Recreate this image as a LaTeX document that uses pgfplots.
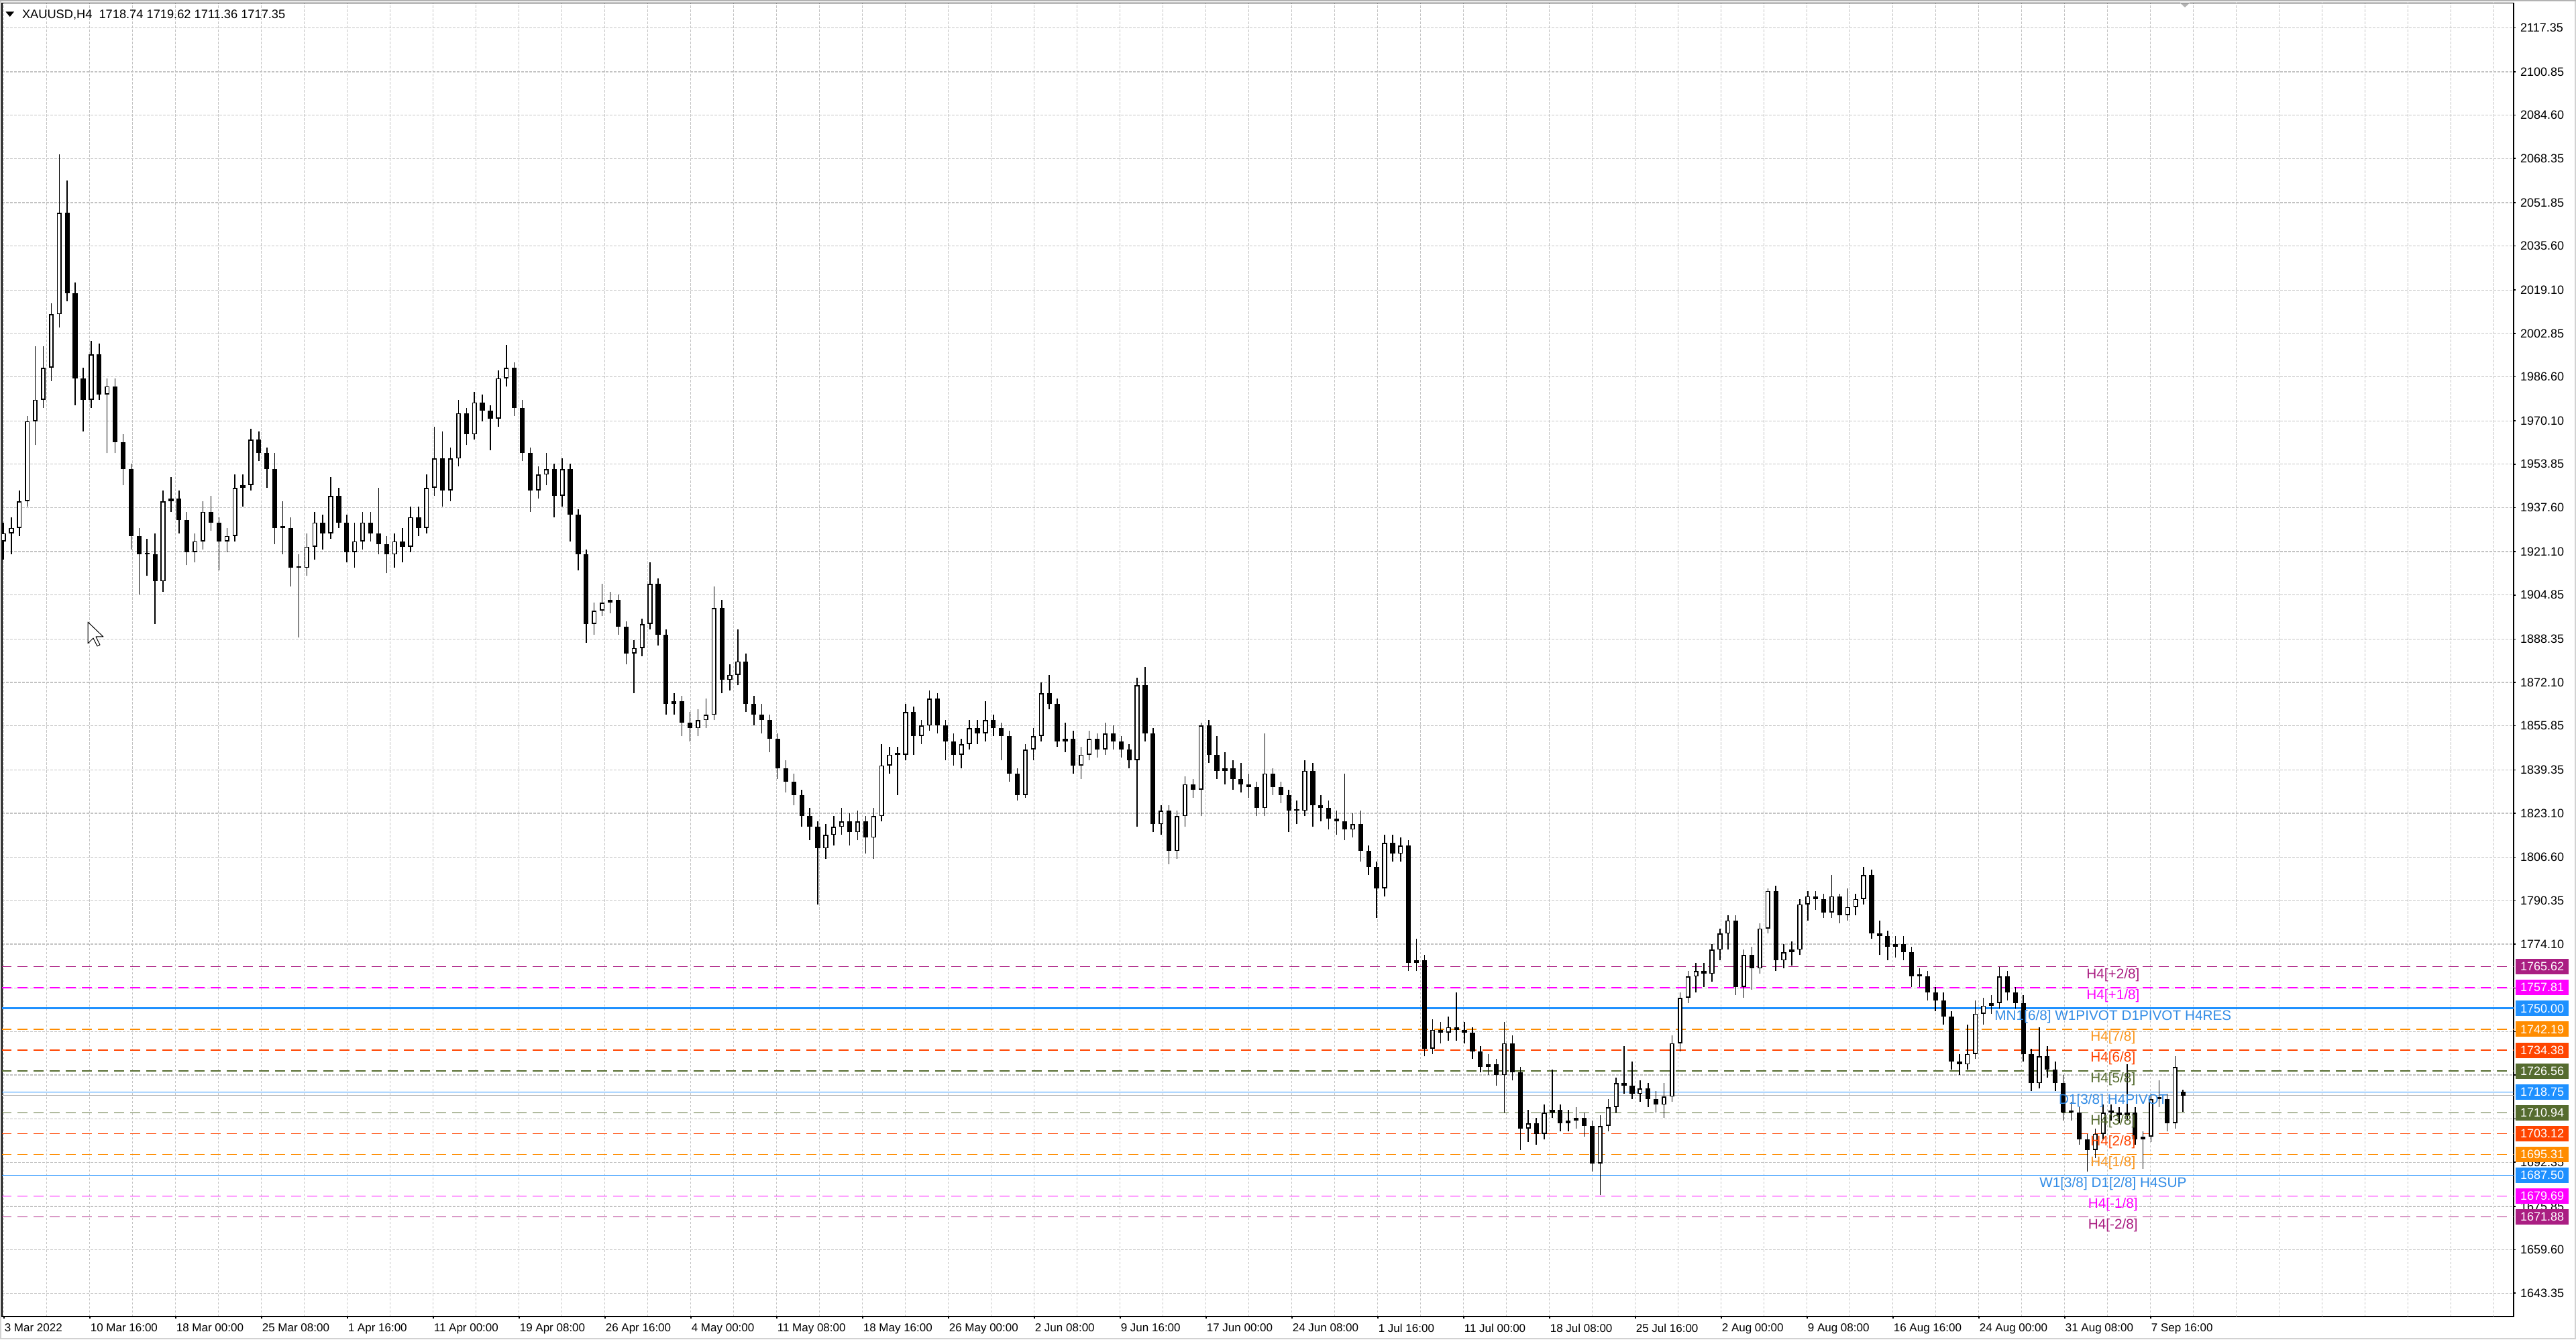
\documentclass[border=0pt]{standalone}
\usepackage{fontspec}
\setmainfont{Liberation Sans}
\usepackage{pgfplots}
\usepackage{pgfplotstable}
\pgfplotsset{compat=1.18}

\definecolor{mvr}{RGB}{170,30,130}
\definecolor{mag}{RGB}{255,0,255}
\definecolor{dblue}{RGB}{30,144,255}
\definecolor{tblue}{RGB}{50,140,230}
\definecolor{dorange}{RGB}{255,140,0}
\definecolor{torange}{RGB}{250,150,30}
\definecolor{ored}{RGB}{255,69,0}
\definecolor{olive}{RGB}{85,107,47}
\definecolor{gridgray}{RGB}{195,195,195}

\pgfplotsset{
  candle/.style={only marks, mark=*, mark size=0pt, mark options={draw=none, fill=none}, forget plot,
    error bars/.cd, y dir=plus, y explicit, error mark=none,
    error bar style={#1}},
}

% H4 candles, one row per 3 bars: x o h l c
\pgfplotstableread{
x o h l c
0 1925 1932 1918 1928
3 1928 1934 1920 1930
6 1930 1944 1927 1940
9 1940 1972 1938 1970
12 1970 1998 1961 1978
15 1978 1998 1975 1990
18 1990 2014 1985 2010
21 2010 2070 2005 2048
24 2048 2060 2015 2018
27 2018 2022 1976 1986
30 1986 1990 1966 1978
33 1978 2000 1975 1995
36 1995 1999 1978 1980
39 1980 1986 1958 1983
42 1983 1986 1958 1962
45 1962 1965 1946 1952
48 1952 1954 1922 1927
51 1927 1930 1905 1920
54 1920 1926 1912 1920
57 1920 1928 1894 1910
60 1910 1944 1906 1940
63 1940 1949 1936 1941
66 1941 1944 1928 1933
69 1933 1936 1916 1921
72 1921 1928 1917 1925
75 1925 1940 1922 1936
78 1936 1942 1929 1932
81 1932 1934 1914 1925
84 1925 1930 1921 1927
87 1927 1950 1925 1945
90 1945 1950 1938 1946
93 1946 1967 1944 1963
96 1963 1966 1955 1958
99 1958 1960 1945 1952
102 1952 1958 1924 1930
105 1930 1940 1920 1930
108 1930 1934 1908 1915
111 1915 1920 1889 1915
114 1915 1928 1912 1923
117 1923 1936 1918 1932
120 1932 1935 1922 1928
123 1928 1949 1926 1942
126 1942 1945 1930 1932
129 1932 1935 1917 1921
132 1921 1932 1915 1925
135 1925 1936 1922 1932
138 1932 1936 1925 1928
141 1928 1945 1920 1924
144 1924 1927 1913 1920
147 1920 1928 1915 1925
150 1925 1930 1917 1923
153 1923 1938 1921 1934
156 1934 1938 1927 1930
159 1930 1950 1928 1945
162 1945 1968 1942 1956
165 1956 1966 1938 1944
168 1944 1960 1940 1956
171 1956 1978 1953 1973
174 1973 1975 1961 1965
177 1965 1981 1963 1977
180 1977 1980 1970 1974
183 1974 1976 1959 1971
186 1971 1989 1968 1986
189 1986 1998.5 1983 1990
192 1990 1992 1972 1975
195 1975 1978 1955 1958
198 1958 1960 1936 1944
201 1944 1953 1941 1950
204 1950 1958 1946 1952
207 1952 1954 1934 1942
210 1942 1956 1938 1952
213 1952 1954 1925 1935
216 1935 1937 1914 1920
219 1920 1922 1887 1894
222 1894 1902 1890 1899
225 1899 1909 1897 1902
228 1902 1906 1898 1903
231 1903 1905 1890 1893
234 1893 1895 1879 1883
237 1883 1888 1868 1885
240 1885 1896 1882 1894
243 1894 1917 1892 1909
246 1909 1911 1886 1890
249 1890 1892 1860 1864
252 1864 1868 1860 1865
255 1865 1867 1852 1857
258 1857 1861 1850 1855
261 1855 1862 1852 1858
264 1858 1866 1855 1860
267 1860 1908 1858 1900
270 1900 1903 1868 1873
273 1873 1879 1869 1875
276 1875 1892 1871 1880
279 1880 1883 1861 1864
282 1864 1867 1856 1860
285 1860 1864 1853 1858
288 1858 1860 1846 1851
291 1851 1853 1836 1840
294 1840 1843 1831 1835
297 1835 1838 1826 1830
300 1830 1832 1818 1822
303 1822 1825 1813 1818
306 1818 1820 1789 1810
309 1810 1819 1806 1815
312 1815 1822 1811 1818
315 1818 1825 1815 1820
318 1820 1823 1811 1816
321 1816 1824 1813 1820
324 1820 1822 1808 1814
327 1814 1825 1806 1822
330 1822 1849 1820 1841
333 1841 1848 1838 1845
336 1845 1848 1830 1845
339 1845 1864 1843 1861
342 1861 1863 1845 1852
345 1852 1858 1849 1856
348 1856 1869 1854 1866
351 1866 1868 1853 1856
354 1856 1858 1843 1850
357 1850 1853 1841 1845
360 1845 1851 1840 1849
363 1849 1858 1847 1855
366 1855 1858 1849 1853
369 1853 1865 1850 1858
372 1858 1860 1852 1855
375 1855 1857 1843 1852
378 1852 1854 1835 1838
381 1838 1840 1828 1830
384 1830 1849 1829 1847
387 1847 1855 1843 1852
390 1852 1872 1850 1868
393 1868 1875 1862 1864
396 1864 1866 1848 1850
399 1850 1857 1846 1851
402 1851 1854 1838 1841
405 1841 1848 1836 1845
408 1845 1854 1843 1851
411 1851 1853 1844 1847
414 1847 1857 1845 1853
417 1853 1856 1847 1850
420 1850 1852 1844 1847
423 1847 1849 1840 1843
426 1843 1874 1818 1871
429 1871 1878 1850 1853
432 1853 1855 1816 1819
435 1819 1826 1815 1824
438 1824 1826 1804 1809
441 1809 1824 1806 1822
444 1822 1837 1818 1834
447 1834 1836 1829 1832
450 1832 1857 1822 1856
453 1856 1858 1842 1845
456 1845 1852 1836 1839
459 1839 1846 1834 1840
462 1840 1843 1832 1836
465 1836 1842 1831 1834
468 1834 1838 1829 1833
471 1833 1835 1822 1825
474 1825 1853 1822 1838
477 1838 1840 1830 1833
480 1833 1835 1827 1830
483 1830 1832 1816 1824
486 1824 1828 1819 1824
489 1824 1843 1822 1839
492 1839 1842 1818 1826
495 1826 1830 1820 1825
498 1825 1828 1817 1821
501 1821 1824 1815 1820
504 1820 1838 1813 1817
507 1817 1823 1814 1819
510 1819 1824 1805 1809
513 1809 1811 1800 1803
516 1803 1805 1784 1795
519 1795 1815 1792 1812
522 1812 1815 1805 1808
525 1808 1814 1805 1811
528 1811 1813 1764 1767
531 1767 1776 1764 1768
534 1768 1770 1732 1735
537 1735 1746 1733 1742
540 1742 1745 1737 1741
543 1741 1747 1738 1743
546 1743 1756 1738 1742
549 1742 1745 1737 1741
552 1741 1743 1731 1734
555 1734 1736 1726 1728
558 1728 1733 1725 1729
561 1729 1731 1721 1725
564 1725 1745 1711 1737
567 1737 1740 1723 1726
570 1726 1728 1697 1705
573 1705 1712 1700 1707
576 1707 1709 1699 1703
579 1703 1714 1701 1711
582 1711 1727 1709 1712
585 1712 1714 1704 1707
588 1707 1712 1704 1708
591 1708 1713 1705 1709
594 1709 1711 1702 1706
597 1706 1708 1689 1692
600 1692 1710 1680 1706
603 1706 1716 1704 1713
606 1713 1724 1711 1722
609 1722 1736 1718 1721
612 1721 1730 1716 1718
615 1718 1723 1715 1720
618 1720 1722 1713 1716
621 1716 1719 1711 1714
624 1714 1722 1709 1717
627 1717 1740 1715 1737
630 1737 1756 1734 1754
633 1754 1764 1752 1762
636 1762 1767 1756 1764
639 1764 1767 1758 1763
642 1763 1774 1760 1772
645 1772 1780 1768 1778
648 1778 1785 1772 1783
651 1783 1785 1755 1758
654 1758 1772 1754 1770
657 1770 1773 1757 1765
660 1765 1782 1763 1780
663 1780 1795 1778 1794
666 1794 1796 1764 1768
669 1768 1774 1765 1771
672 1771 1775 1766 1772
675 1772 1791 1770 1789
678 1789 1794 1783 1792
681 1792 1794 1787 1791
684 1791 1793 1784 1786
687 1786 1800 1784 1792
690 1792 1793 1782 1785
693 1785 1795 1783 1788
696 1788 1793 1785 1791
699 1791 1803 1789 1800
702 1800 1802 1776 1778
705 1778 1783 1770 1777
708 1777 1779 1768 1773
711 1773 1777 1769 1774
714 1774 1777 1768 1771
717 1771 1773 1758 1762
720 1762 1765 1758 1762
723 1762 1764 1753 1756
726 1756 1758 1749 1753
729 1753 1756 1744 1747
732 1747 1749 1727 1730
735 1730 1733 1725 1729
738 1729 1744 1727 1733
741 1733 1753 1731 1748
744 1748 1754 1744 1751
747 1751 1755 1748 1752
750 1752 1765.5 1750 1762
753 1762 1764 1753 1756
756 1756 1758 1750 1752
759 1752 1755 1730 1733
762 1733 1735 1719 1722
765 1722 1743 1720 1732
768 1732 1736 1724 1727
771 1727 1730 1719 1722
774 1722 1725 1708 1711
777 1711 1715 1708 1711
780 1711 1713 1699 1701
783 1701 1703 1689 1697
786 1697 1705 1694 1703
789 1703 1714 1701 1711
792 1711 1714 1708 1711
795 1711 1713 1707 1710
798 1710 1729 1708 1711
801 1711 1713 1699 1701
804 1701 1704 1690 1702
807 1702 1718 1700 1716
810 1716 1723 1713 1716
813 1716 1718 1704 1707
816 1707 1732 1705 1728
819 1718.74 1719.62 1711.36 1717.35
}\candles

\begin{document}
\begin{tikzpicture}
\fill[white] (-0.6pt,-6.8pt) rectangle (767.4pt,392.4pt);
\begin{axis}[
  at={(0,0)}, anchor=south west,
  scale only axis, width=748.8pt, height=391.5pt,
  xmin=-0.7, xmax=935.3, ymin=1634.6, ymax=2126.6,
  axis line style={black, line width=0.3pt},
  tick align=outside, major tick length=0.6pt, minor tick length=0pt,
  tick style={black, line width=0.3pt},
  xtick pos=bottom, ytick pos=right, yticklabel pos=right,
  xtick={0,32,...,800}, minor xtick={16,48,...,928},
  xticklabels={3 Mar 2022,10 Mar 16:00,18 Mar 00:00,25 Mar 08:00,1 Apr 16:00,11 Apr 00:00,19 Apr 08:00,26 Apr 16:00,4 May 00:00,11 May 08:00,18 May 16:00,26 May 00:00,2 Jun 08:00,9 Jun 16:00,17 Jun 00:00,24 Jun 08:00,1 Jul 16:00,11 Jul 00:00,18 Jul 08:00,25 Jul 16:00,2 Aug 00:00,9 Aug 08:00,16 Aug 16:00,24 Aug 00:00,31 Aug 08:00,7 Sep 16:00},
  extra x ticks={832,864,896,928}, extra x tick labels={},
  extra x tick style={major tick length=0pt},
  ytick={1643.35,1659.60,1675.85,1692.35,1708.60,1725.10,1741.35,1757.60,1774.10,1790.35,1806.60,1823.10,1839.35,1855.85,1872.10,1888.35,1904.85,1921.10,1937.60,1953.85,1970.10,1986.60,2002.85,2019.10,2035.60,2051.85,2068.35,2084.60,2100.85,2117.35},
  yticklabels={1643.35,1659.60,1675.85,1692.35,{},{},{},{},1774.10,1790.35,1806.60,1823.10,1839.35,1855.85,1872.10,1888.35,1904.85,1921.10,1937.60,1953.85,1970.10,1986.60,2002.85,2019.10,2035.60,2051.85,2068.35,2084.60,2100.85,2117.35},
  grid=both,
  major grid style={gridgray, line width=0.25pt, dash pattern=on 0.7pt off 0.5pt},
  minor grid style={gridgray, line width=0.25pt, dash pattern=on 0.7pt off 0.5pt},
  xticklabel style={font=\fontsize{3.4}{4}\selectfont, anchor=north west, inner sep=0pt, yshift=-1.4pt},
  yticklabel style={font=\fontsize{3.6}{4}\selectfont, anchor=west, inner sep=0pt, xshift=1.2pt},
]
% level lines
\addplot[mvr, line width=0.3pt, dash pattern=on 3pt off 1.8pt, forget plot] coordinates {(-1,1765.62) (940,1765.62)};
\addplot[mag, line width=0.3pt, dash pattern=on 3pt off 1.8pt, forget plot] coordinates {(-1,1757.81) (940,1757.81)};
\addplot[dblue, line width=0.55pt, forget plot] coordinates {(-1,1750.00) (940,1750.00)};
\addplot[dorange, line width=0.3pt, dash pattern=on 3pt off 1.8pt, forget plot] coordinates {(-1,1742.19) (940,1742.19)};
\addplot[ored, line width=0.3pt, dash pattern=on 3pt off 1.8pt, forget plot] coordinates {(-1,1734.38) (940,1734.38)};
\addplot[olive, line width=0.3pt, dash pattern=on 3pt off 1.8pt, forget plot] coordinates {(-1,1726.56) (940,1726.56)};
\addplot[dblue, line width=0.25pt, forget plot] coordinates {(-1,1718.75) (940,1718.75)};
\addplot[gray!55, line width=0.25pt, forget plot] coordinates {(-1,1717.35) (940,1717.35)};
\addplot[olive, line width=0.3pt, dash pattern=on 3pt off 1.8pt, forget plot] coordinates {(-1,1710.94) (940,1710.94)};
\addplot[ored, line width=0.3pt, dash pattern=on 3pt off 1.8pt, forget plot] coordinates {(-1,1703.12) (940,1703.12)};
\addplot[dorange, line width=0.3pt, dash pattern=on 3pt off 1.8pt, forget plot] coordinates {(-1,1695.31) (940,1695.31)};
\addplot[dblue, line width=0.25pt, forget plot] coordinates {(-1,1687.50) (940,1687.50)};
\addplot[mag, line width=0.3pt, dash pattern=on 3pt off 1.8pt, forget plot] coordinates {(-1,1679.69) (940,1679.69)};
\addplot[mvr, line width=0.3pt, dash pattern=on 3pt off 1.8pt, forget plot] coordinates {(-1,1671.88) (940,1671.88)};

% wicks
\addplot[candle={black, line width=0.3pt}]
  table[x expr=0.9918*\thisrow{x}-0.2, y=l, y error expr=\thisrow{h}-\thisrow{l}] {\candles};
% bodies
\addplot[candle={black, line width=1.45pt}]
  table[x expr=0.9918*\thisrow{x}-0.2, y expr={min(\thisrow{o},\thisrow{c})},
        y error expr={max(abs(\thisrow{c}-\thisrow{o}),0.7)}] {\candles};
% hollow bullish bodies
\addplot[candle={white, line width=0.75pt}]
  table[x expr=0.9918*\thisrow{x}-0.2,
        y expr={\thisrow{c}-\thisrow{o}>1.2 ? \thisrow{o}+0.4 : nan},
        y error expr={\thisrow{c}-\thisrow{o}-0.8}] {\candles};

% level names
\begin{scope}[every node/.style={font=\fontsize{4.15}{5}\selectfont, inner sep=0pt}]
\node[text=mvr] at (axis cs:786,1762.5) {H4[+2/8]};
\node[text=mag] at (axis cs:786,1754.7) {H4[+1/8]};
\node[text=tblue] at (axis cs:786,1746.9) {MN1[6/8] W1PIVOT D1PIVOT H4RES};
\node[text=torange] at (axis cs:786,1739.1) {H4[7/8]};
\node[text=ored] at (axis cs:786,1731.3) {H4[6/8]};
\node[text=olive] at (axis cs:786,1723.5) {H4[5/8]};
\node[text=tblue] at (axis cs:786,1715.6) {D1[3/8] H4PIVOT};
\node[text=olive] at (axis cs:786,1707.8) {H4[3/8]};
\node[text=ored] at (axis cs:786,1700.0) {H4[2/8]};
\node[text=torange] at (axis cs:786,1692.2) {H4[1/8]};
\node[text=tblue] at (axis cs:786,1684.4) {W1[3/8] D1[2/8] H4SUP};
\node[text=mag] at (axis cs:786,1676.6) {H4[-1/8]};
\node[text=mvr] at (axis cs:786,1668.8) {H4[-2/8]};
\end{scope}

% header
\node[anchor=west, inner sep=0pt, font=\fontsize{3.65}{4}\selectfont, xshift=5.8pt, yshift=-3.5pt]
  at (rel axis cs:0,1) {XAUUSD,H4\ \ 1718.74 1719.62 1711.36 1717.35};

% anchors for the price boxes
\coordinate (q1) at (axis cs:935.3,1765.62);
\coordinate (q2) at (axis cs:935.3,1757.81);
\coordinate (q3) at (axis cs:935.3,1750.00);
\coordinate (q4) at (axis cs:935.3,1742.19);
\coordinate (q5) at (axis cs:935.3,1734.38);
\coordinate (q6) at (axis cs:935.3,1726.56);
\coordinate (q7) at (axis cs:935.3,1718.75);
\coordinate (q8) at (axis cs:935.3,1710.94);
\coordinate (q9) at (axis cs:935.3,1703.12);
\coordinate (q10) at (axis cs:935.3,1695.31);
\coordinate (q11) at (axis cs:935.3,1687.50);
\coordinate (q12) at (axis cs:935.3,1679.69);
\coordinate (q13) at (axis cs:935.3,1671.88);
\coordinate (tl) at (rel axis cs:0,1);
\coordinate (sh) at (axis cs:812.8,2126.6);
\end{axis}

% small markers of the terminal window
\fill[black] (tl) ++(1.1pt,-2.6pt) -- ++(2.5pt,0pt) -- ++(-1.25pt,-1.5pt) -- cycle;
\fill[gray!60] (sh) ++(-1.4pt,0pt) -- ++(2.8pt,0pt) -- ++(-1.4pt,-1.3pt) -- cycle;
\draw[black, fill=white, line width=0.2pt, line join=round] (25.6pt,207pt) -- ++(0pt,-6.4pt) -- ++(1.6pt,1.6pt)
  -- ++(1.2pt,-2.4pt) -- ++(0.8pt,0.4pt) -- ++(-1.2pt,2.4pt) -- ++(2.2pt,0pt) -- cycle;

% price boxes on the scale
\foreach \i/\v/\col in {1/1765.62/mvr,2/1757.81/mag,3/1750.00/dblue,4/1742.19/dorange,5/1734.38/ored,6/1726.56/olive,7/1718.75/dblue,8/1710.94/olive,9/1703.12/ored,10/1695.31/dorange,11/1687.50/dblue,12/1679.69/mag,13/1671.88/mvr}
  \node[fill=\col, text=white, anchor=west, inner sep=0pt, minimum width=15.8pt, minimum height=4.6pt,
        font=\fontsize{3.6}{4}\selectfont, xshift=0.4pt] at (q\i) {\v};

% window border
\draw[gray!35, line width=0.4pt] (-0.4pt,-6.6pt) rectangle (767.2pt,392.2pt);
\draw[gray!60, line width=0.5pt] (-0.6pt,392.15pt) -- (767.4pt,392.15pt);

\pgfresetboundingbox
\path[use as bounding box] (-0.6pt,-6.8pt) rectangle (767.4pt,392.4pt);
\end{tikzpicture}
\end{document}
